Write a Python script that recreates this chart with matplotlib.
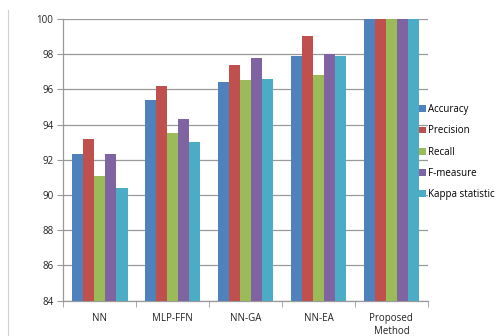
import numpy as np
import matplotlib.pyplot as plt
from matplotlib.lines import Line2D

plt.rcParams['font.family'] = ['Open Sans', 'DejaVu Sans']

# Classifier comparison (percent)
methods = ['NN', 'MLP-FFN', 'NN-GA', 'NN-EA', 'Proposed\nMethod']
accuracy = [92.3, 95.4, 96.4, 97.9, 100]
precision = [93.2, 96.2, 97.4, 99.0, 100]
recall = [91.1, 93.5, 96.5, 96.8, 100]
f_measure = [92.3, 94.3, 97.8, 98.0, 100]
kappa = [90.4, 93.0, 96.6, 97.9, 100]

series = [('Accuracy', accuracy, '#4F81BD'),
          ('Precision', precision, '#C0504D'),
          ('Recall', recall, '#9BBB59'),
          ('F-measure', f_measure, '#8064A2'),
          ('Kappa statistic', kappa, '#4BACC6')]

fig = plt.figure(figsize=(4.97, 3.36), dpi=100)
ax = fig.add_axes([0.127, 0.105, 0.734, 0.839])

x = np.arange(len(methods))
w = 0.153
for i, (name, vals, col) in enumerate(series):
    ax.bar(x + (i - 2) * w, np.array(vals) - 84, width=w, bottom=84,
           color=col, label=name, zorder=3)

ax.set_xlim(-0.5, len(methods) - 0.5)
ax.set_ylim(84, 100)
ax.set_yticks(np.arange(84, 101, 2))
ax.yaxis.grid(True, color='#999999', linewidth=0.9, zorder=0)

ax.set_xticks(x)
ax.set_xticklabels(methods, fontsize=7, color='#222222')
ax.set_xticks(np.arange(-0.5, len(methods)), minor=True)
ax.tick_params(axis='x', which='major', length=0, pad=9)
ax.tick_params(axis='x', which='minor', length=4, color='#999999')
ax.tick_params(axis='y', length=4, color='#999999', labelsize=7,
               labelcolor='#222222', pad=3)

for side in ('top', 'right'):
    ax.spines[side].set_visible(False)
for side in ('left', 'bottom'):
    ax.spines[side].set_color('#999999')
    ax.spines[side].set_linewidth(0.9)

fig.legend(loc='center left', bbox_to_anchor=(0.835, 0.547), frameon=False,
           fontsize=7, handlelength=0.7, handleheight=0.7,
           handletextpad=0.25, labelspacing=1.05, borderaxespad=0)

# thin frame edge on the left
fig.add_artist(Line2D([0.016, 0.016], [0.0, 0.97], color='#d0d0d0',
                      linewidth=0.8, transform=fig.transFigure))

fig.savefig('out.png', dpi=100)
